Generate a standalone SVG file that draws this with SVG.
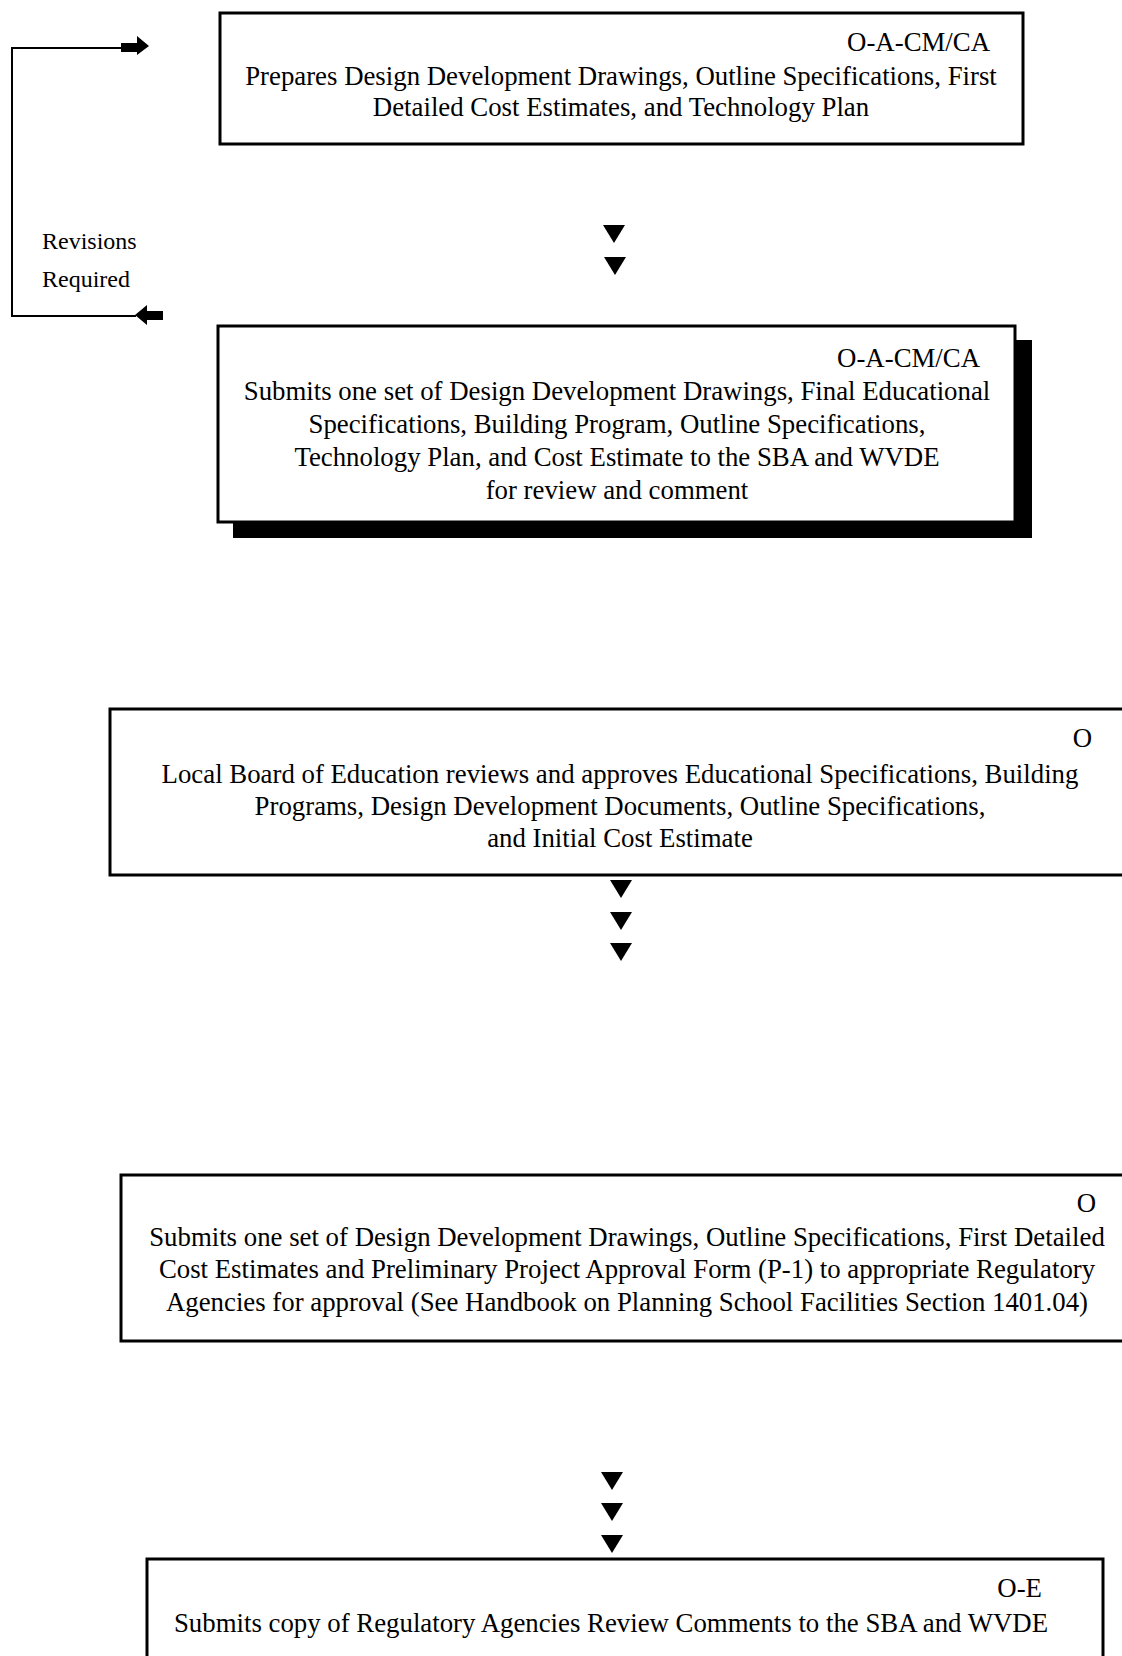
<svg xmlns="http://www.w3.org/2000/svg" xmlns:xlink="http://www.w3.org/1999/xlink" width="1122" height="1656" viewBox="0 0 1122 1656">
<style>
.box{fill:#fff;stroke:#000;stroke-width:3}
.t{font-family:"Liberation Serif","Times New Roman",serif;font-size:26.8px;fill:#000}
.c{text-anchor:middle}
.r{text-anchor:end}
.lab{font-family:"Liberation Serif","Times New Roman",serif;font-size:24px;fill:#000}
.ln{fill:none;stroke:#000;stroke-width:2}
</style>
<defs>
<path id="tri" d="M-11,0 L11,0 L0,18 Z" fill="#000"/>
</defs>
<rect width="1122" height="1656" fill="#fff"/>

<g id="connectors">
  <path class="ln" d="M123,48 H12 V316 H136"/>
  <path d="M121,43 H137 V36 L149,46 L137,55 V52 H121 Z" fill="#000"/>
  <path d="M135,315 L147,305 V311 H163 V320 H147 V325 Z" fill="#000"/>
  <use xlink:href="#tri" x="614" y="225"/>
  <use xlink:href="#tri" x="615" y="257"/>
  <use xlink:href="#tri" x="621" y="880"/>
  <use xlink:href="#tri" x="621" y="912"/>
  <use xlink:href="#tri" x="621" y="943"/>
  <use xlink:href="#tri" x="612" y="1472"/>
  <use xlink:href="#tri" x="612" y="1503"/>
  <use xlink:href="#tri" x="612" y="1535"/>
  <text class="lab" x="42" y="249">Revisions</text>
  <text class="lab" x="42" y="287">Required</text>
</g>

<g id="node1">
  <rect class="box" x="220" y="13" width="803" height="131"/>
  <text class="t r" x="990" y="51">O-A-CM/CA</text>
  <text class="t c" x="621" y="85">Prepares Design Development Drawings, Outline Specifications, First</text>
  <text class="t c" x="621" y="116">Detailed Cost Estimates, and Technology Plan</text>
</g>

<g id="node2">
  <rect x="233" y="340" width="799" height="198" fill="#000"/>
  <rect class="box" x="218" y="326" width="797" height="196"/>
  <text class="t r" x="980" y="367">O-A-CM/CA</text>
  <text class="t c" x="617" y="400">Submits one set of Design Development Drawings, Final Educational</text>
  <text class="t c" x="617" y="433">Specifications, Building Program, Outline Specifications,</text>
  <text class="t c" x="617" y="466">Technology Plan, and Cost Estimate to the SBA and WVDE</text>
  <text class="t c" x="617" y="499">for review and comment</text>
</g>

<g id="node3">
  <rect class="box" x="110" y="709" width="1020" height="166"/>
  <text class="t r" x="1092" y="747">O</text>
  <text class="t c" x="620" y="783">Local Board of Education reviews and approves Educational Specifications, Building</text>
  <text class="t c" x="620" y="815">Programs, Design Development Documents, Outline Specifications,</text>
  <text class="t c" x="620" y="847">and Initial Cost Estimate</text>
</g>

<g id="node4">
  <rect class="box" x="121" y="1175" width="1010" height="166"/>
  <text class="t r" x="1096" y="1212">O</text>
  <text class="t c" x="627" y="1246">Submits one set of Design Development Drawings, Outline Specifications, First Detailed</text>
  <text class="t c" x="627" y="1278">Cost Estimates and Preliminary Project Approval Form (P-1) to appropriate Regulatory</text>
  <text class="t c" x="627" y="1311">Agencies for approval (See Handbook on Planning School Facilities Section 1401.04)</text>
</g>

<g id="node5">
  <rect class="box" x="147" y="1559" width="956" height="120"/>
  <text class="t r" x="1042" y="1597">O-E</text>
  <text class="t c" x="611" y="1632">Submits copy of Regulatory Agencies Review Comments to the SBA and WVDE</text>
</g>
</svg>
